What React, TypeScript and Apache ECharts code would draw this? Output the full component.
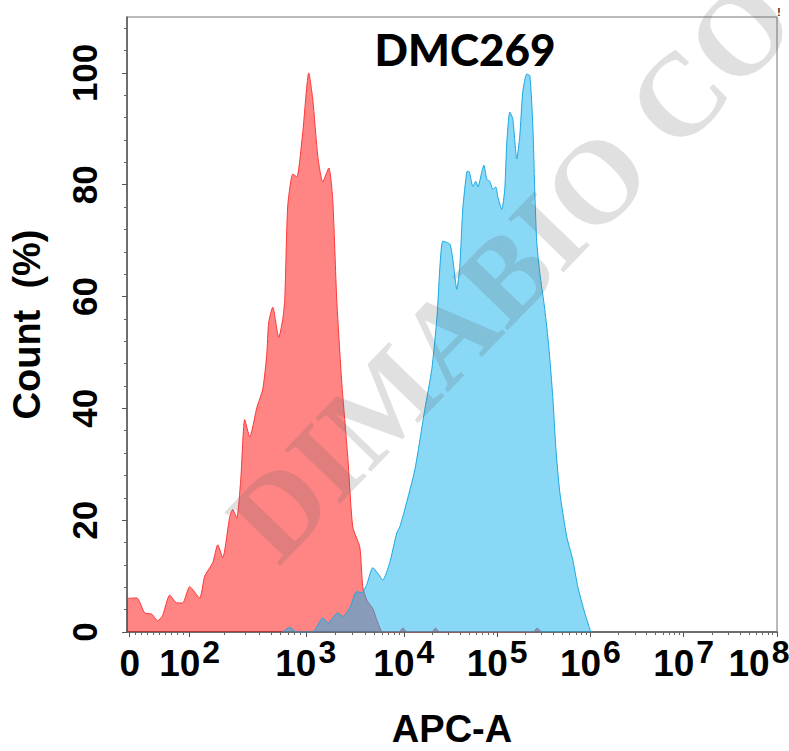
import React, { useEffect, useRef } from 'react';
import * as echarts from 'echarts';

// x axis is a display (biexponential-like) scale: position units, 10^k at k for k >= 4
const X_MIN = 1.033;
const X_MAX = 8;
const X_TICK_POS = [1.062, 1.705, 2.949, 4, 5, 6, 7, 8];
const X_TICK_EXP = ['', '2', '3', '4', '5', '6', '7', '8'];

const Y_MIN = 0;
const Y_MAX = 110;
const Y_TICKS = [0, 20, 40, 60, 80, 100];

// Red histogram (unstained / isotype)
const RED_POS = [
  1.033, 1.137, 1.223, 1.298, 1.362, 1.416, 1.491, 1.566, 1.63, 1.705, 1.812, 1.866, 1.952,
  2.006, 2.059, 2.134, 2.166, 2.209, 2.252, 2.295, 2.349, 2.424, 2.488, 2.531, 2.552, 2.595,
  2.66, 2.702, 2.724, 2.756, 2.81, 2.853, 2.917, 2.981, 3.024, 3.078, 3.131, 3.196, 3.238,
  3.281, 3.335, 3.399, 3.453, 3.528, 3.56, 3.603, 3.667, 3.71, 3.774,
  3.95, 3.99, 4.03, 4.3, 4.34, 4.38, 5.39, 5.43, 5.47,
];
const RED_COUNT = [
  6.0, 6.1, 3.4, 3.2, 2.0, 3.0, 6.6, 5.2, 5.2, 8.1, 6.1, 10.0, 12.4,
  15.6, 13.3, 20.6, 21.9, 20.4, 27.2, 38.0, 34.9, 40.1, 43.4, 49.6, 55.4, 58.1,
  52.7, 55.9, 59.5, 76.2, 81.9, 81.4, 89.4, 100, 95.3, 85.1, 80.5, 83.0, 77.4,
  59.5, 44.6, 31.4, 18.8, 15.2, 8.1, 5.7, 4.2, 2.2, 0,
  0, 0.7, 0, 0, 0.7, 0, 0, 0.7, 0,
];

// Blue histogram (DMC269 stained)
const BLUE_POS = [
  2.7, 2.778, 2.85, 3.024, 3.131, 3.185, 3.292, 3.346, 3.421, 3.496, 3.549, 3.603, 3.667,
  3.721, 3.774, 3.849, 3.924, 3.957, 4.01, 4.118, 4.225, 4.3, 4.354, 4.418, 4.493, 4.525,
  4.568, 4.6, 4.632, 4.675, 4.697, 4.74, 4.772, 4.794, 4.836, 4.858, 4.89, 4.922, 4.954,
  4.986, 5.008, 5.05, 5.082, 5.104, 5.136, 5.168, 5.211, 5.243, 5.275, 5.318, 5.351, 5.383,
  5.404, 5.425, 5.457, 5.511, 5.554, 5.597, 5.629, 5.672, 5.747, 5.811, 5.865, 5.94, 6.004,
];
const BLUE_COUNT = [
  0, 0.8, 0, 0, 2.5, 1.6, 3.4, 2.8, 4.3, 7.2, 7.0, 8.5, 11.5,
  10.5, 9.3, 12.4, 17.7, 18.8, 21.9, 29, 39.8, 47, 56, 69.9, 69.4, 66.7,
  61.3, 65.4, 75.6, 82.3, 82.4, 79.7, 80.6, 79.6, 82.3, 83.5, 81.0, 80.6, 79.2,
  79.6, 77.8, 75.6, 79.2, 87.6, 93.0, 91.8, 84.6, 88.7, 96.6, 99.8, 99.5, 90.5,
  78.7, 69.7, 64.3, 57.7, 51, 42, 33, 25, 17, 12.9, 8.1, 3.4, 0,
];

const TITLE = 'DMC269';
const X_NAME = 'APC-A';
const Y_NAME = 'Count  (%)';
const WATERMARK = 'DIMABIO CO., LTD';

function zip(xs: number[], ys: number[]) {
  return xs.map((x, i) => [x, ys[i]]);
}

function minorXTicks(): number[] {
  const out: number[] = [];
  for (let i = 0; i < X_TICK_POS.length - 1; i++) {
    const a = X_TICK_POS[i];
    const b = X_TICK_POS[i + 1];
    if (i === 0) {
      for (let m = 1; m <= 9; m++) out.push(a + (b - a) * (m / 10));
    } else {
      for (let m = 2; m <= 9; m++) out.push(a + (b - a) * Math.log10(m));
    }
  }
  return out;
}

function minorYTicks(): number[] {
  const out: number[] = [];
  for (let v = 4; v < Y_MAX; v += 4) if (v % 20 !== 0) out.push(v);
  return out;
}

export default function App() {
  const ref = useRef<HTMLDivElement>(null);
  useEffect(() => {
    if (!ref.current) return;
    const chart = echarts.init(ref.current, null, { renderer: 'svg' });
    const font = 'Liberation Sans, Arial, sans-serif';
    const labelFor = (v: number) => {
      let idx = 0;
      let best = Infinity;
      X_TICK_POS.forEach((p, i) => {
        const d = Math.abs(p - v);
        if (d < best) {
          best = d;
          idx = i;
        }
      });
      const e = X_TICK_EXP[idx];
      if (!e) return '{b|0}';
      if (idx === X_TICK_POS.length - 1) return '{b|10}{s8|' + e + '}';
      return '{b|10}{s|' + e + '}';
    };
    const sup = {
      fontFamily: font,
      fontWeight: 'bold',
      fontSize: 32,
      color: '#000',
      lineHeight: 14,
      verticalAlign: 'top',
    };
    chart.setOption({
      animation: false,
      backgroundColor: '#fff',
      title: {
        text: TITLE,
        left: 460,
        top: 22,
        textAlign: 'center',
        textStyle: { fontFamily: 'Lato', fontWeight: 900, fontSize: 44, color: '#000' },
      },
      grid: {
        left: 127,
        right: 12,
        top: 17,
        bottom: 119,
        show: true,
        borderColor: '#777',
        borderWidth: 1,
        containLabel: false,
        outerBoundsMode: 'none',
      },
      xAxis: [
        {
          type: 'value',
          position: 'bottom',
          min: X_MIN,
          max: X_MAX,
          name: X_NAME,
          nameLocation: 'middle',
          nameGap: 78,
          nameTextStyle: { fontFamily: font, fontWeight: 'bold', fontSize: 38, color: '#000' },
          axisLine: { show: true, lineStyle: { color: '#555', width: 1.5 } },
          splitLine: { show: false },
          axisTick: { show: true, length: 5, customValues: X_TICK_POS, lineStyle: { color: '#555' } },
          axisLabel: {
            customValues: X_TICK_POS,
            formatter: labelFor,
            margin: 4,
            hideOverlap: false,
            rich: {
              b: { fontFamily: font, fontWeight: 'bold', fontSize: 37, color: '#000', lineHeight: 54 },
              s: { ...sup, padding: [0, 0, 0, 2] },
              s8: { ...sup, padding: [0, 36, 0, 2] },
            },
          },
        },
        {
          type: 'value',
          position: 'bottom',
          min: X_MIN,
          max: X_MAX,
          axisLine: { show: false },
          splitLine: { show: false },
          axisLabel: { show: false },
          axisTick: { show: true, length: 3, customValues: minorXTicks(), lineStyle: { color: '#666' } },
        },
      ],
      yAxis: [
        {
          type: 'value',
          position: 'left',
          min: Y_MIN,
          max: Y_MAX,
          name: Y_NAME,
          nameLocation: 'middle',
          nameGap: 81,
          nameRotate: 90,
          nameTextStyle: { fontFamily: font, fontWeight: 'bold', fontSize: 38, color: '#000' },
          axisLine: { show: true, lineStyle: { color: '#555', width: 1.5 } },
          splitLine: { show: false },
          axisTick: { show: true, length: 5, customValues: Y_TICKS, lineStyle: { color: '#555' } },
          axisLabel: {
            customValues: Y_TICKS,
            rotate: 90,
            margin: 25,
            fontFamily: font,
            fontWeight: 'bold',
            fontSize: 35,
            color: '#000',
          },
        },
        {
          type: 'value',
          position: 'left',
          min: Y_MIN,
          max: Y_MAX,
          axisLine: { show: false },
          splitLine: { show: false },
          axisLabel: { show: false },
          axisTick: { show: true, length: 3, customValues: minorYTicks(), lineStyle: { color: '#666' } },
        },
      ],
      series: [
        {
          type: 'line',
          name: 'Control',
          xAxisIndex: 0,
          yAxisIndex: 0,
          data: zip(RED_POS, RED_COUNT),
          smooth: 0.2,
          showSymbol: false,
          lineStyle: { color: '#ff3535', width: 1 },
          areaStyle: { color: 'rgb(255,0,0)', opacity: 0.48 },
          z: 2,
        },
        {
          type: 'line',
          name: TITLE,
          xAxisIndex: 0,
          yAxisIndex: 0,
          data: zip(BLUE_POS, BLUE_COUNT),
          smooth: 0.2,
          showSymbol: false,
          lineStyle: { color: '#1ba8e2', width: 1 },
          areaStyle: { color: 'rgb(18,178,238)', opacity: 0.5 },
          z: 3,
        },
      ],
      graphic: [
        {
          type: 'text',
          x: 250,
          y: 540,
          rotation: (46 * Math.PI) / 180,
          silent: true,
          z: 100,
          style: {
            text: WATERMARK,
            fontFamily: 'Liberation Serif, serif',
            fontWeight: 'bold',
            fontSize: 118,
            fill: 'rgba(100,100,100,0.2)',
            align: 'left',
            verticalAlign: 'middle',
          },
        },
        {
          type: 'text',
          x: 779,
          y: 12,
          silent: true,
          style: {
            text: '!',
            fontFamily: font,
            fontWeight: 'bold',
            fontSize: 10,
            fill: '#222',
            align: 'center',
            verticalAlign: 'middle',
          },
        },
      ],
    });
    return () => chart.dispose();
  }, []);
  return (
    <div
      ref={ref}
      style={{ position: 'fixed', left: 0, top: 0, width: 789, height: 751, background: '#fff' }}
    />
  );
}
